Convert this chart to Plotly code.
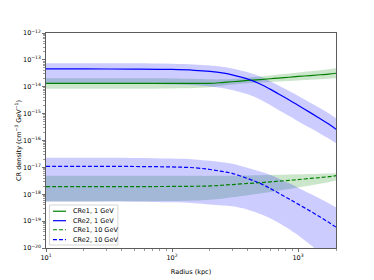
import plotly.graph_objects as go

# Radius (kpc)
radius = [10, 20, 50, 100, 150, 200, 250, 300, 400, 500, 600, 700, 850, 1000, 1250, 1500, 1750, 2000]

# log10 of CR density (cm^-3 GeV^-1)
cre1_1gev = [-13.877, -13.877, -13.877, -13.877, -13.877, -13.874, -13.844, -13.814, -13.766, -13.732,
             -13.703, -13.677, -13.647, -13.617, -13.584, -13.554, -13.528, -13.498]
cre1_1gev_hi = [-13.684, -13.684, -13.684, -13.691, -13.706, -13.725, -13.725, -13.710, -13.662, -13.621,
                -13.580, -13.546, -13.506, -13.468, -13.424, -13.383, -13.349, -13.312]
cre1_1gev_lo = [-14.071, -14.071, -14.071, -14.063, -14.048, -14.022, -13.963, -13.918, -13.870, -13.844,
                -13.825, -13.807, -13.788, -13.766, -13.744, -13.725, -13.706, -13.684]

cre2_1gev = [-13.338, -13.338, -13.342, -13.357, -13.387, -13.431, -13.487, -13.561, -13.717, -13.896,
             -14.089, -14.268, -14.491, -14.688, -14.963, -15.190, -15.387, -15.580]
cre2_1gev_hi = [-13.126, -13.126, -13.130, -13.145, -13.171, -13.208, -13.257, -13.320, -13.457, -13.617,
                -13.792, -13.952, -14.156, -14.335, -14.591, -14.799, -14.985, -15.171]
cre2_1gev_lo = [-13.896, -13.896, -13.900, -13.915, -13.944, -13.989, -14.045, -14.119, -14.283, -14.472,
                -14.677, -14.863, -15.086, -15.283, -15.539, -15.747, -15.926, -16.100]

cre1_10gev = [-17.714, -17.714, -17.714, -17.710, -17.703, -17.692, -17.666, -17.639, -17.599, -17.569,
              -17.539, -17.513, -17.483, -17.454, -17.413, -17.379, -17.346, -17.309]
cre1_10gev_hi = [-17.316, -17.316, -17.316, -17.316, -17.316, -17.316, -17.312, -17.309, -17.301, -17.294,
                 -17.286, -17.279, -17.268, -17.260, -17.245, -17.234, -17.227, -17.216]
cre1_10gev_lo = [-18.271, -18.271, -18.264, -18.249, -18.231, -18.201, -18.164, -18.115, -18.034, -17.970,
                 -17.915, -17.866, -17.807, -17.751, -17.677, -17.613, -17.550, -17.491]

cre2_10gev = [-16.963, -16.963, -16.967, -16.985, -17.015, -17.078, -17.152, -17.223, -17.420, -17.595,
              -17.781, -17.955, -18.178, -18.368, -18.628, -18.848, -19.045, -19.223]
cre2_10gev_hi = [-16.639, -16.639, -16.647, -16.669, -16.703, -16.758, -16.810, -16.866, -17.019, -17.156,
                 -17.279, -17.413, -17.595, -17.755, -17.985, -18.171, -18.331, -18.480]
cre2_10gev_lo = [-18.271, -18.271, -18.279, -18.301, -18.331, -18.379, -18.416, -18.450, -18.573, -18.736,
                 -18.896, -19.063, -19.305, -19.528, -19.881, -20.179, -20.457, -20.699]

x_tick_vals = [10, 100, 1000]
x_tick_text = ["10<sup>1</sup>", "10<sup>2</sup>", "10<sup>3</sup>"]
y_tick_exps = [-20, -19, -18, -17, -16, -15, -14, -13, -12]

legend_labels = ["CRe1, 1 GeV", "CRe2, 1 GeV", "CRe1, 10 GeV", "CRe2, 10 GeV"]

GREEN = "#008000"
BLUE = "#0000ff"
GREEN_FILL = "rgba(0,128,0,0.2)"
BLUE_FILL = "rgba(0,0,255,0.2)"
DASH = "4px,2px"


def lin(v):
    return [10 ** e for e in v]


fig = go.Figure()


def add_band(lo, hi, fill):
    fig.add_trace(go.Scatter(x=radius, y=lin(lo), mode="lines", line=dict(width=0, shape="spline"),
                             showlegend=False, hoverinfo="skip"))
    fig.add_trace(go.Scatter(x=radius, y=lin(hi), mode="lines", line=dict(width=0, shape="spline"),
                             fill="tonexty", fillcolor=fill, showlegend=False, hoverinfo="skip"))


add_band(cre1_1gev_lo, cre1_1gev_hi, GREEN_FILL)
add_band(cre2_1gev_lo, cre2_1gev_hi, BLUE_FILL)
add_band(cre1_10gev_lo, cre1_10gev_hi, GREEN_FILL)
add_band(cre2_10gev_lo, cre2_10gev_hi, BLUE_FILL)

series = [(cre1_1gev, GREEN, "solid"), (cre2_1gev, BLUE, "solid"),
          (cre1_10gev, GREEN, DASH), (cre2_10gev, BLUE, DASH)]
for (vals, col, dash), name in zip(series, legend_labels):
    fig.add_trace(go.Scatter(x=radius, y=lin(vals), mode="lines", name=name,
                             line=dict(color=col, width=1.2, dash=dash, shape="spline"),
                             showlegend=False))

# compact legend box (matplotlib style)
fig.add_shape(type="rect", xref="paper", yref="paper", x0=0.012, x1=0.248, y0=0.014, y1=0.2,
              line=dict(color="#cccccc", width=0.8), fillcolor="rgba(255,255,255,0.8)", layer="above")
ys = [0.171, 0.127, 0.085, 0.039]
for (vals, col, dash), name, yy in zip(series, legend_labels, ys):
    fig.add_shape(type="line", xref="paper", yref="paper", x0=0.024, x1=0.069, y0=yy, y1=yy,
                  line=dict(color=col, width=1.2, dash=dash), layer="above")
    fig.add_annotation(xref="paper", yref="paper", x=0.086, y=yy, text=name, showarrow=False,
                       xanchor="left", yanchor="middle", font=dict(size=6.5, color="#000000"))

axis_common = dict(type="log", showline=True, linecolor="#333333", linewidth=0.8, mirror=True,
                   ticks="outside", ticklen=3, tickwidth=0.7, tickcolor="#333333", showgrid=False,
                   zeroline=False, automargin=False, tickfont=dict(size=6.5, color="#000000"))

fig.update_xaxes(range=[1, 3.30103], tickvals=x_tick_vals, ticktext=x_tick_text,
                 minor=dict(ticks="outside", ticklen=1.8, tickwidth=0.5, tickcolor="#333333",
                            tickvals=[v * m for v in [10, 100, 1000] for m in range(2, 10) if v * m <= 2000]),
                 title=dict(text="Radius (kpc)", font=dict(size=6.5, color="#000000"), standoff=8),
                 **axis_common)
fig.update_yaxes(range=[-20, -12], tickvals=[10 ** e for e in y_tick_exps],
                 ticktext=["10<sup>\u2212%d</sup>" % (-e) for e in y_tick_exps],
                 minor=dict(ticks="outside", ticklen=1.8, tickwidth=0.5, tickcolor="#333333",
                            tickvals=[m * 10 ** e for e in y_tick_exps[:-1] for m in range(2, 10)]),
                 title=dict(text="CR density (cm<sup>\u22123</sup> GeV<sup>\u22121</sup>)",
                            font=dict(size=6.5, color="#000000"), standoff=0),
                 **axis_common)

fig.update_layout(template="none", width=374, height=280, margin=dict(l=46, r=38, t=33, b=32),
                  plot_bgcolor="white", paper_bgcolor="white",
                  font=dict(family="DejaVu Sans", size=6.5, color="#000000"), showlegend=False)

fig.write_html("out.html", config={"displayModeBar": False, "staticPlot": True},
               post_script="document.body.style.margin='0';")
